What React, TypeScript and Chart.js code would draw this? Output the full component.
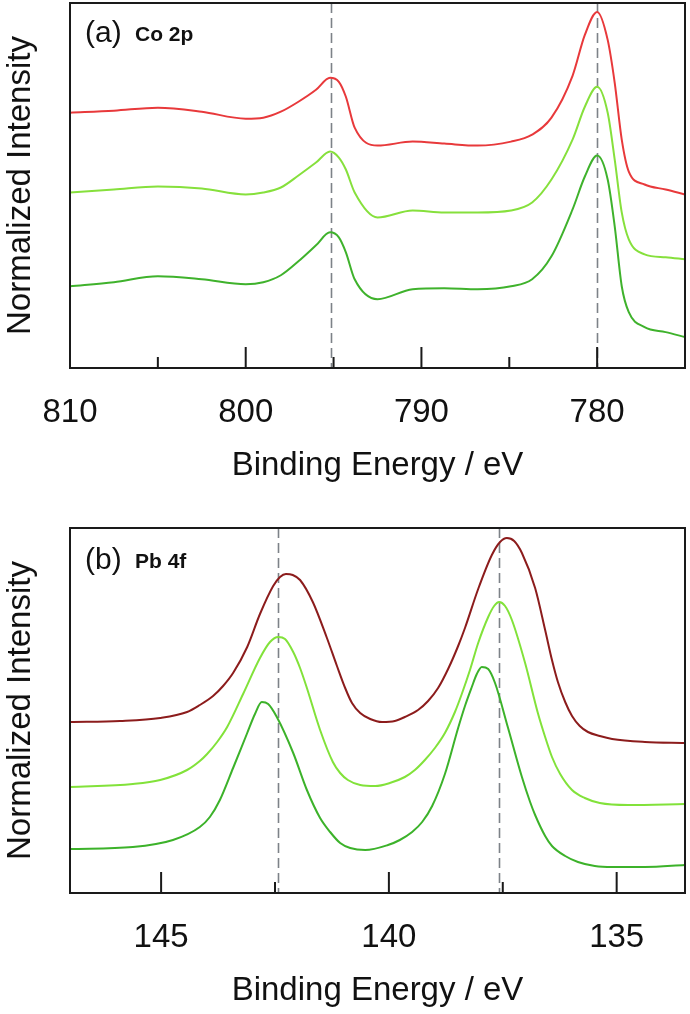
import React, { useEffect, useRef } from 'react';
import { Chart, registerables } from 'chart.js';

Chart.register(...registerables);

const FONT = '"Liberation Sans", Arial, Helvetica, sans-serif';

// ---------- Panel (a) Co 2p ----------
const coEnergy = [810, 807.5, 805, 802.5, 800, 799, 798, 797, 796, 795.2, 794.7, 794.3, 793.8, 792.5, 790.5, 788.7, 786.8, 784.9, 783.7, 782.6, 781.4, 780.7, 780.0, 779.4, 779.0, 778.6, 778.2, 777.3, 776.1, 775];
const coTop = [256, 258, 261, 257, 250, 251, 257, 267, 279, 291, 287, 272, 241, 223, 227, 225, 223, 227, 234, 251, 293, 334, 357, 329, 286, 229, 197, 184, 179, 174];
const coMiddle = [176, 179, 182, 180, 174, 176, 181, 193, 206, 217, 211, 199, 176, 151, 158, 156, 156, 158, 166, 189, 229, 262, 282, 256, 209, 156, 129, 114, 111, 109];
const coBottom = [82, 86, 92, 89, 84, 86, 93, 107, 123, 136, 131, 116, 89, 69, 79, 80, 79, 82, 89, 112, 159, 192, 213, 189, 142, 82, 56, 41, 36, 31];
const coMajorTicks = [780, 790, 800, 810];
const coMinorTicks = [785, 795, 805];
const coRefLines = [795.15, 780.0];

// ---------- Panel (b) Pb 4f ----------
const pbTopEnergy = [147, 145.9, 145.02, 144.43, 144.15, 143.86, 143.64, 143.42, 143.11, 142.83, 142.54, 142.39, 142.26, 142.11, 141.95, 141.67, 141.36, 141.14, 140.96, 140.81, 140.63, 140.41, 140.15, 139.87, 139.65, 139.36, 139.14, 138.92, 138.7, 138.48, 138.33, 138.04, 137.74, 137.56, 137.41, 137.25, 137.08, 136.79, 136.57, 136.42, 136.29, 136.13, 135.98, 135.81, 135.63, 135.37, 135.1, 134.38, 133.5];
const pbTop = [171, 172, 175, 181, 188, 197, 207, 220, 246, 279, 307, 316, 319, 318, 313, 291, 255, 227, 205, 190, 180, 174, 171, 172, 176, 183, 192, 205, 224, 247, 265, 304, 338, 351, 355, 352, 340, 305, 263, 233, 211, 191, 177, 167, 161, 157, 154, 151, 150];
const pbMiddleEnergy = [147, 145.62, 145.02, 144.43, 144.15, 143.99, 143.77, 143.55, 143.2, 142.83, 142.61, 142.43, 142.28, 142.1, 141.95, 141.8, 141.51, 141.23, 141.07, 140.9, 140.63, 140.3, 139.98, 139.65, 139.43, 139.21, 138.99, 138.77, 138.55, 138.4, 138.22, 138.04, 137.82, 137.69, 137.58, 137.45, 137.3, 137.01, 136.73, 136.57, 136.42, 136.24, 135.98, 135.7, 135.37, 134.75, 133.5];
const pbMiddle = [106, 109, 113, 123, 132, 139, 151, 166, 199, 235, 251, 256, 254, 241, 225, 205, 163, 131, 120, 113, 108, 107, 110, 116, 123, 133, 145, 160, 181, 199, 223, 250, 276, 287, 291, 287, 273, 230, 180, 156, 136, 119, 103, 95, 90, 88, 89];
const pbBottomEnergy = [147, 145.62, 144.74, 144.15, 143.93, 143.71, 143.42, 143.11, 142.94, 142.79, 142.65, 142.46, 142.1, 141.8, 141.51, 141.29, 141.07, 140.85, 140.52, 140.02, 139.76, 139.49, 139.27, 139.05, 138.77, 138.48, 138.33, 138.18, 138.07, 137.96, 137.82, 137.67, 137.39, 137.08, 136.9, 136.79, 136.57, 136.42, 136.13, 135.85, 135.48, 135.1, 134.38, 133.5];
const pbBottom = [44, 46, 53, 66, 76, 93, 125, 160, 179, 191, 189, 176, 140, 103, 75, 61, 50, 45, 43, 48, 53, 61, 71, 87, 119, 165, 187, 206, 219, 226, 224, 210, 166, 116, 91, 78, 57, 47, 37, 31, 27, 26, 26, 28];
const pbMajorTicks = [135, 140, 145];
const pbMinorTicks = [137.5, 142.5];
const pbRefLines = [142.43, 137.58];

const AXIS_TITLE = 'Binding Energy / eV';
const Y_TITLE = 'Normalized Intensity';

const toPoints = (xs: number[], ys: number[]) => xs.map((x, i) => ({ x, y: ys[i] }));

const decorPlugin = {
  id: 'decor',
  beforeDatasetsDraw(chart: any, _args: any, opts: any) {
    const { ctx, chartArea } = chart;
    const xs = chart.scales.x;
    ctx.save();
    ctx.strokeStyle = '#7d8288';
    ctx.lineWidth = 1.6;
    ctx.setLineDash([10, 5]);
    for (const v of opts.refLines) {
      const px = Math.round(xs.getPixelForValue(v)) + 0.5;
      ctx.beginPath();
      ctx.moveTo(px, chartArea.top);
      ctx.lineTo(px, chartArea.bottom);
      ctx.stroke();
    }
    ctx.restore();
  },
  afterDatasetsDraw(chart: any, _args: any, opts: any) {
    const { ctx, chartArea } = chart;
    const xs = chart.scales.x;
    ctx.save();
    ctx.strokeStyle = '#1a1a1a';
    ctx.lineWidth = 2;
    ctx.strokeRect(chartArea.left, chartArea.top, chartArea.right - chartArea.left, chartArea.bottom - chartArea.top);
    ctx.beginPath();
    for (const t of xs.ticks) {
      const px = xs.getPixelForValue(t.value);
      ctx.moveTo(px, chartArea.bottom);
      ctx.lineTo(px, chartArea.bottom - 21);
    }
    for (const v of opts.minor) {
      const px = xs.getPixelForValue(v);
      ctx.moveTo(px, chartArea.bottom);
      ctx.lineTo(px, chartArea.bottom - 11);
    }
    ctx.stroke();
    // panel label
    ctx.fillStyle = '#111';
    ctx.textBaseline = 'middle';
    ctx.textAlign = 'left';
    ctx.font = `30px ${FONT}`;
    const ly = chartArea.top + opts.labelDy;
    ctx.fillText(opts.label, chartArea.left + 15, ly);
    ctx.font = `bold 21px ${FONT}`;
    ctx.fillText(opts.sub, chartArea.left + 65, ly + 1);
    ctx.restore();
  },
};

function makeConfig(p: any) {
  return {
    type: 'line',
    data: {
      datasets: p.datasets.map((d: any) => ({
        data: d.data,
        borderColor: d.color,
        borderWidth: 2,
        pointRadius: 0,
        fill: false,
        cubicInterpolationMode: 'monotone',
      })),
    },
    options: {
      responsive: false,
      animation: false,
      events: [],
      layout: { padding: { top: p.padTop, right: 5, left: 0, bottom: 0 } },
      plugins: {
        legend: { display: false },
        tooltip: { enabled: false },
        decor: { refLines: p.refLines, minor: p.minor, label: p.label, sub: p.sub, labelDy: p.labelDy },
      },
      scales: {
        x: {
          type: 'linear',
          reverse: true,
          min: p.xMin,
          max: p.xMax,
          afterBuildTicks: (s: any) => {
            s.ticks = p.major.map((value: number) => ({ value }));
          },
          afterFit: (s: any) => {
            s.height = p.xHeight;
          },
          ticks: {
            color: '#111',
            font: { family: FONT, size: 33, lineHeight: 1 },
            padding: p.tickPad,
            maxRotation: 0,
            autoSkip: false,
          },
          grid: { display: false },
          border: { display: false },
          title: {
            display: true,
            text: AXIS_TITLE,
            color: '#111',
            font: { family: FONT, size: 33, lineHeight: 1 },
            padding: 0,
          },
        },
        y: {
          type: 'linear',
          min: 0,
          max: p.yMax,
          afterFit: (s: any) => {
            s.width = 70;
          },
          ticks: { display: false },
          grid: { display: false },
          border: { display: false },
          title: {
            display: true,
            text: Y_TITLE,
            color: '#111',
            font: { family: FONT, size: 33, lineHeight: 1 },
            padding: { top: 4, bottom: 0 },
          },
        },
      },
    },
    plugins: [decorPlugin],
  };
}

function Panel({ cfg, width, height, top }: any) {
  const ref = useRef<HTMLCanvasElement | null>(null);
  useEffect(() => {
    if (!ref.current) return;
    const chart = new Chart(ref.current, makeConfig(cfg) as any);
    return () => chart.destroy();
  }, []);
  return (
    <canvas
      ref={ref}
      width={width}
      height={height}
      style={{ position: 'absolute', left: 0, top, width, height, display: 'block' }}
    />
  );
}

const panelA = {
  datasets: [
    { data: toPoints(coEnergy, coTop), color: '#e8393b' },
    { data: toPoints(coEnergy, coMiddle), color: '#86e03c' },
    { data: toPoints(coEnergy, coBottom), color: '#3fb22c' },
  ],
  xMin: 775,
  xMax: 810,
  yMax: 366,
  padTop: 3,
  xHeight: 114,
  tickPad: 20.5,
  major: coMajorTicks,
  minor: coMinorTicks,
  refLines: coRefLines,
  label: '(a)',
  sub: 'Co 2p',
  labelDy: 31,
};

const panelB = {
  datasets: [
    { data: toPoints(pbTopEnergy, pbTop), color: '#8c1c1c' },
    { data: toPoints(pbMiddleEnergy, pbMiddle), color: '#82e23a' },
    { data: toPoints(pbBottomEnergy, pbBottom), color: '#3cb22a' },
  ],
  xMin: 133.5,
  xMax: 147,
  yMax: 365,
  padTop: 46,
  xHeight: 114,
  tickPad: 20.5,
  major: pbMajorTicks,
  minor: pbMinorTicks,
  refLines: pbRefLines,
  label: '(b)',
  sub: 'Pb 4f',
  labelDy: 33,
};

export default function App() {
  return (
    <div style={{ position: 'absolute', left: 0, top: 0, width: 690, height: 1014, background: '#fff', overflow: 'hidden' }}>
      <Panel cfg={panelA} width={690} height={482} top={0} />
      <Panel cfg={panelB} width={690} height={525} top={482} />
    </div>
  );
}
